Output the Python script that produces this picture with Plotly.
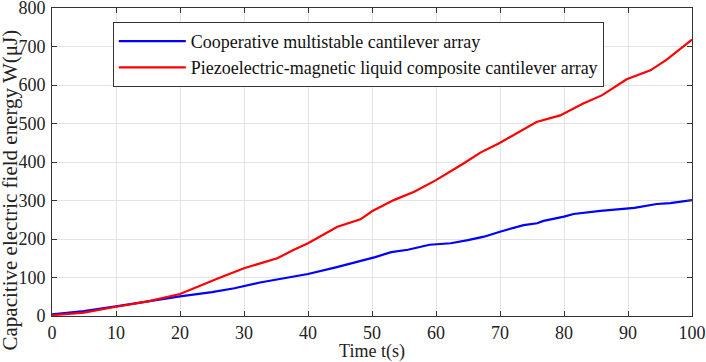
import plotly.graph_objects as go

blue_t = [0, 5, 10, 15, 20, 25, 28.5, 32.5, 36, 40, 44.5, 48, 50.5, 53, 55.6, 59, 62.3, 65, 67.5, 70,
          73.7, 75.8, 76.8, 80, 81.5, 85.7, 91, 94.5, 96.6, 100]
blue_v = [4, 13, 25, 38, 51, 62, 72, 87, 98, 109, 127, 141, 153, 166, 172, 185, 189, 197, 206, 219,
          236, 241, 247, 258, 265, 273, 281, 291, 293, 301]

red_t = [0, 5, 10, 15, 20, 23, 26, 30, 33, 35.2, 37.8, 40, 44.6, 48.2, 50, 53.4, 56.6, 60, 64.3, 67,
         69.8, 72.1, 75.7, 79.4, 83, 85.9, 89.8, 93.5, 96, 100]
red_v = [2, 9, 24, 38, 57, 78, 98, 124, 140, 150, 172, 189, 232, 251, 272, 301, 323, 353, 396, 425,
         448, 470, 504, 521, 552, 573, 615, 638, 665, 718]

x_ticks = [0, 10, 20, 30, 40, 50, 60, 70, 80, 90, 100]
y_ticks = [0, 100, 200, 300, 400, 500, 600, 700, 800]

x_title = "Time t(s)"
y_title = "Capacitive electric field energy W(μJ)"

FONT = "Liberation Serif"
FS = 18
TXT = "#222222"

fig = go.Figure()
fig.add_trace(go.Scatter(x=blue_t, y=blue_v, mode="lines", name="Cooperative multistable cantilever array",
                         line=dict(color="#0000ff", width=2.2)))
fig.add_trace(go.Scatter(x=red_t, y=red_v, mode="lines",
                         name="Piezoelectric-magnetic liquid composite cantilever array",
                         line=dict(color="#ff0000", width=2.2)))

axis_common = dict(showgrid=True, gridcolor="#e3e3e3", gridwidth=1, showline=True, linecolor="#333333",
                   linewidth=1, mirror="ticks", ticks="inside", ticklen=5, tickcolor="#333333",
                   tickfont=dict(family=FONT, size=FS, color=TXT), zeroline=False,
                   automargin=False, ticklabeloverflow="allow")

fig.update_xaxes(range=[0, 100], tickvals=x_ticks, ticklabelstandoff=0,
                 title=dict(text=x_title, standoff=0, font=dict(family=FONT, size=FS, color=TXT)),
                 **axis_common)
fig.update_yaxes(range=[0, 800], tickvals=y_ticks, ticklabelstandoff=2, **axis_common)

fig.add_annotation(text=y_title, xref="paper", yref="paper", x=-0.066, y=0.41,
                   xanchor="center", yanchor="middle", textangle=-90, showarrow=False,
                   font=dict(family=FONT, size=21, color=TXT))

fig.update_layout(
    width=706, height=362,
    margin=dict(l=52, r=14, t=8, b=46),
    plot_bgcolor="white", paper_bgcolor="white",
    font=dict(family=FONT, size=FS, color=TXT),
    legend=dict(x=0.095, y=0.955, xanchor="left", yanchor="top", bgcolor="white",
                bordercolor="#333333", borderwidth=1, font=dict(family=FONT, size=FS, color="#111111"),
                tracegroupgap=0, itemwidth=67),
    showlegend=True,
)

fig.write_html("out.html", config={"displayModeBar": False},
               post_script="document.body.style.margin='0';")
